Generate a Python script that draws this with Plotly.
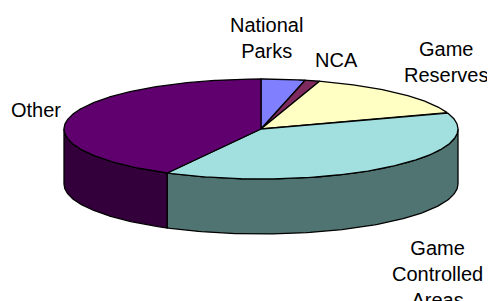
import numpy as np
import plotly.graph_objects as go

# ---- data ----
categories = ["National Parks", "NCA", "Game Reserves", "Game Controlled Areas", "Other"]
values = [3.6, 1.2, 14.9, 38.2, 42.1]
label_text = ["National<br>Parks", "NCA", "Game<br>Reserves", "Game<br>Controlled<br>Areas", "Other"]

# ---- styles / geometry ----
top_colors = ["#8080FF", "#7F2A5F", "#FFFFC4", "#A2E0E0", "#60006F"]
side_colors = ["#40407F", "#40152F", "#80806A", "#507472", "#33003B"]
label_pos = [(266, 38), (336, 60), (446, 62), (437, 274), (36, 110)]
W, H = 495, 301
OFF = 8  # page body margin
cx, cy, rx, ry, depth = 261, 129, 197, 50, 55

fig = go.Figure()

vals = np.array(values, dtype=float)
fr = vals / vals.sum()
ends = np.cumsum(fr) * 360.0
starts = ends - fr * 360.0

def top_xy(t):
    r = np.radians(t)
    return cx + rx * np.sin(r), cy - ry * np.cos(r)

# sides (front half: 90..270 deg clockwise from top)
for i, (a0, a1) in enumerate(zip(starts, ends)):
    s0, s1 = max(a0, 90), min(a1, 270)
    if s1 <= s0:
        continue
    t = np.linspace(s0, s1, 120)
    x, y = top_xy(t)
    xs = np.concatenate([x, x[::-1], [x[0]]])
    ys = np.concatenate([y, (y + depth)[::-1], [y[0]]])
    fig.add_trace(go.Scatter(x=xs, y=ys, mode="lines", fill="toself",
                             fillcolor=side_colors[i],
                             line=dict(color="black", width=1.3),
                             hoverinfo="skip", showlegend=False))

# tops
for i, (a0, a1) in enumerate(zip(starts, ends)):
    t = np.linspace(a0, a1, max(int((a1 - a0) * 2), 4))
    x, y = top_xy(t)
    xs = np.concatenate([[cx], x, [cx]])
    ys = np.concatenate([[cy], y, [cy]])
    fig.add_trace(go.Scatter(x=xs, y=ys, mode="lines", fill="toself",
                             fillcolor=top_colors[i],
                             line=dict(color="black", width=1.3),
                             hoverinfo="text", text=categories[i],
                             showlegend=False))

for txt, (lx, ly) in zip(label_text, label_pos):
    fig.add_annotation(x=lx, y=ly, text=txt, showarrow=False,
                       xanchor="center", yanchor="middle",
                       font=dict(family="Liberation Sans, Arial, sans-serif",
                                 size=20, color="black"))

fig.update_layout(
    width=W - OFF, height=H - OFF,
    margin=dict(l=0, r=0, t=0, b=0),
    paper_bgcolor="white", plot_bgcolor="white",
    xaxis=dict(range=[OFF, W], visible=False, fixedrange=True),
    yaxis=dict(range=[H, OFF], visible=False, fixedrange=True),
)

fig.write_html("out.html")
